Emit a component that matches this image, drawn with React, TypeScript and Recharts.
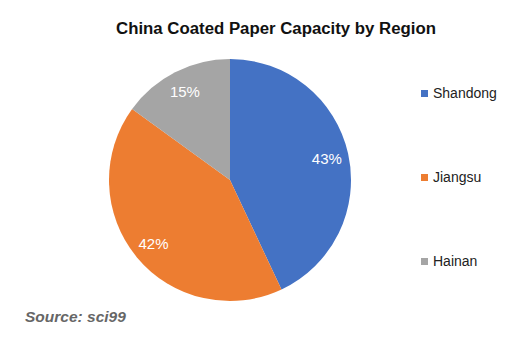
import React from "react";
import { PieChart, Pie, Cell, Legend } from "recharts";

const regions = ["Shandong", "Jiangsu", "Hainan"];
const shares = [43, 42, 15];
const colors = ["#4472C4", "#ED7D31", "#A5A5A5"];

const data = regions.map((name, i) => ({ name, value: shares[i] }));

const RADIAN = Math.PI / 180;

const renderLabel = (props: any) => {
  const { cx, cy, midAngle, outerRadius, value } = props;
  const r = outerRadius * 0.82;
  const x = cx + r * Math.cos(-midAngle * RADIAN);
  const y = cy + r * Math.sin(-midAngle * RADIAN);
  return (
    <text
      x={x}
      y={y}
      fill="#ffffff"
      textAnchor="middle"
      dominantBaseline="central"
      fontSize={15}
      fontFamily="Liberation Sans, Arial, sans-serif"
    >
      {`${value}%`}
    </text>
  );
};

const renderLegend = () => (
  <div style={{ fontFamily: "Liberation Sans, Arial, sans-serif", fontSize: 14, color: "#222" }}>
    {data.map((d, i) => (
      <div
        key={d.name}
        style={{ display: "flex", alignItems: "center", height: 20, marginBottom: i < data.length - 1 ? 64 : 0 }}
      >
        <span style={{ display: "inline-block", width: 7, height: 7, background: colors[i], marginRight: 5 }} />
        <span>{d.name}</span>
      </div>
    ))}
  </div>
);

export default function App() {
  return (
    <div style={{ position: "absolute", left: 0, top: 0, width: 528, height: 344, background: "#fff" }}>
      <div
        style={{
          position: "absolute",
          left: 0,
          top: 19,
          width: 552,
          textAlign: "center",
          fontFamily: "Liberation Sans, Arial, sans-serif",
          fontWeight: 700,
          fontSize: 16.8,
          color: "#111",
        }}
      >
        China Coated Paper Capacity by Region
      </div>
      <PieChart width={528} height={344}>
        <Pie
          data={data}
          dataKey="value"
          nameKey="name"
          cx={225}
          cy={175}
          outerRadius={121}
          startAngle={90}
          endAngle={-270}
          stroke="none"
          label={renderLabel}
          labelLine={false}
          isAnimationActive={false}
        >
          {data.map((d, i) => (
            <Cell key={d.name} fill={colors[i]} />
          ))}
        </Pie>
        <Legend
          layout="vertical"
          verticalAlign="top"
          align="right"
          content={renderLegend}
          wrapperStyle={{ left: 421, top: 83, width: 100 }}
        />
      </PieChart>
      <div
        style={{
          position: "absolute",
          left: 25,
          top: 308,
          fontFamily: "Liberation Sans, Arial, sans-serif",
          fontWeight: 700,
          fontStyle: "italic",
          fontSize: 15.5,
          color: "#666",
        }}
      >
        Source: sci99
      </div>
    </div>
  );
}
